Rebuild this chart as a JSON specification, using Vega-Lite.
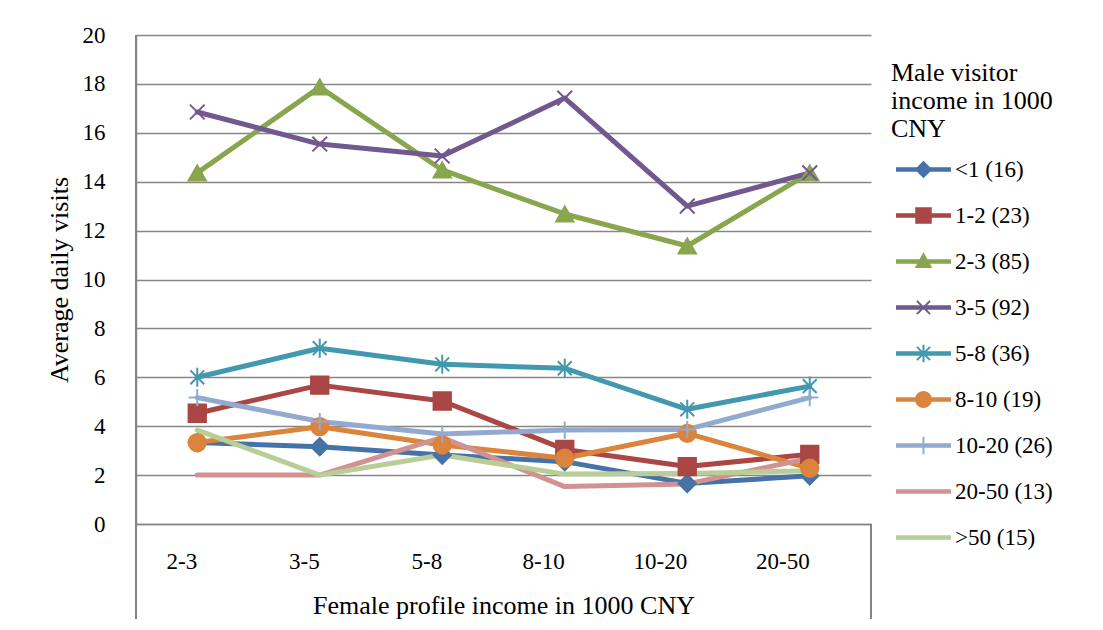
{
  "$schema": "https://vega.github.io/schema/vega-lite/v6.json",
  "autosize": {"type": "none"},
  "width": 735,
  "height": 489,
  "padding": {"left": 136, "top": 35, "right": 232, "bottom": 106},
  "background": "white",
  "config": {
    "view": {"stroke": null},
    "axis": {
      "labelFont": "Liberation Serif, DejaVu Serif",
      "labelFontSize": 23,
      "labelColor": "black",
      "titleFont": "Liberation Serif",
      "titleFontSize": 26,
      "titleFontWeight": "normal",
      "titleColor": "black",
      "domainColor": "#868686",
      "domainWidth": 1.5,
      "gridColor": "#868686",
      "gridWidth": 1.5,
      "ticks": false
    },
    "legend": {
      "labelFont": "Liberation Serif, DejaVu Serif",
      "labelFontSize": 23,
      "labelColor": "black",
      "titleFont": "Liberation Serif",
      "titleFontSize": 26,
      "titleFontWeight": "normal",
      "titleColor": "black",
      "titleLineHeight": 28
    }
  },
  "data": {
    "values": [
      {"series": "<1 (16)", "income": "2-3", "visits": 3.33},
      {"series": "<1 (16)", "income": "3-5", "visits": 3.16},
      {"series": "<1 (16)", "income": "5-8", "visits": 2.82},
      {"series": "<1 (16)", "income": "8-10", "visits": 2.55},
      {"series": "<1 (16)", "income": "10-20", "visits": 1.66},
      {"series": "<1 (16)", "income": "20-50", "visits": 1.97},
      {"series": "1-2 (23)", "income": "2-3", "visits": 4.53},
      {"series": "1-2 (23)", "income": "3-5", "visits": 5.68},
      {"series": "1-2 (23)", "income": "5-8", "visits": 5.03},
      {"series": "1-2 (23)", "income": "8-10", "visits": 3.05},
      {"series": "1-2 (23)", "income": "10-20", "visits": 2.35},
      {"series": "1-2 (23)", "income": "20-50", "visits": 2.85},
      {"series": "2-3 (85)", "income": "2-3", "visits": 14.36},
      {"series": "2-3 (85)", "income": "3-5", "visits": 17.87},
      {"series": "2-3 (85)", "income": "5-8", "visits": 14.48},
      {"series": "2-3 (85)", "income": "8-10", "visits": 12.68},
      {"series": "2-3 (85)", "income": "10-20", "visits": 11.37},
      {"series": "2-3 (85)", "income": "20-50", "visits": 14.36},
      {"series": "3-5 (92)", "income": "2-3", "visits": 16.85},
      {"series": "3-5 (92)", "income": "3-5", "visits": 15.54},
      {"series": "3-5 (92)", "income": "5-8", "visits": 15.05},
      {"series": "3-5 (92)", "income": "8-10", "visits": 17.42},
      {"series": "3-5 (92)", "income": "10-20", "visits": 13.0},
      {"series": "3-5 (92)", "income": "20-50", "visits": 14.36},
      {"series": "5-8 (36)", "income": "2-3", "visits": 6.0},
      {"series": "5-8 (36)", "income": "3-5", "visits": 7.19},
      {"series": "5-8 (36)", "income": "5-8", "visits": 6.53},
      {"series": "5-8 (36)", "income": "8-10", "visits": 6.37},
      {"series": "5-8 (36)", "income": "10-20", "visits": 4.69},
      {"series": "5-8 (36)", "income": "20-50", "visits": 5.64},
      {"series": "8-10 (19)", "income": "2-3", "visits": 3.33},
      {"series": "8-10 (19)", "income": "3-5", "visits": 3.98},
      {"series": "8-10 (19)", "income": "5-8", "visits": 3.23},
      {"series": "8-10 (19)", "income": "8-10", "visits": 2.69},
      {"series": "8-10 (19)", "income": "10-20", "visits": 3.71},
      {"series": "8-10 (19)", "income": "20-50", "visits": 2.28},
      {"series": "10-20 (26)", "income": "2-3", "visits": 5.17},
      {"series": "10-20 (26)", "income": "3-5", "visits": 4.19},
      {"series": "10-20 (26)", "income": "5-8", "visits": 3.68},
      {"series": "10-20 (26)", "income": "8-10", "visits": 3.84},
      {"series": "10-20 (26)", "income": "10-20", "visits": 3.87},
      {"series": "10-20 (26)", "income": "20-50", "visits": 5.17},
      {"series": "20-50 (13)", "income": "2-3", "visits": 2.0},
      {"series": "20-50 (13)", "income": "3-5", "visits": 2.0},
      {"series": "20-50 (13)", "income": "5-8", "visits": 3.54},
      {"series": "20-50 (13)", "income": "8-10", "visits": 1.53},
      {"series": "20-50 (13)", "income": "10-20", "visits": 1.64},
      {"series": "20-50 (13)", "income": "20-50", "visits": 2.69},
      {"series": ">50 (15)", "income": "2-3", "visits": 3.84},
      {"series": ">50 (15)", "income": "3-5", "visits": 2.0},
      {"series": ">50 (15)", "income": "5-8", "visits": 2.82},
      {"series": ">50 (15)", "income": "8-10", "visits": 2.04},
      {"series": ">50 (15)", "income": "10-20", "visits": 2.07},
      {"series": ">50 (15)", "income": "20-50", "visits": 2.18}
    ]
  },
  "resolve": {
    "scale": {"shape": "independent", "color": "independent"},
    "legend": {"shape": "independent", "color": "independent"}
  },
  "layer": [
    {
      "mark": {"type": "rule", "color": "#868686", "strokeWidth": 1.5},
      "encoding": {
        "x": {"datum": "2-3", "type": "nominal", "bandPosition": 0},
        "y": {"datum": 20, "type": "quantitative"},
        "y2": {"datum": -3.85}
      }
    },
    {
      "mark": {"type": "rule", "color": "#868686", "strokeWidth": 1.5},
      "encoding": {
        "x": {"datum": "20-50", "type": "nominal", "bandPosition": 1},
        "y": {"datum": 0, "type": "quantitative"},
        "y2": {"datum": -3.85}
      }
    },
    {
      "mark": {"type": "line", "strokeWidth": 5, "strokeCap": "round", "strokeJoin": "round"},
      "encoding": {
        "x": {
          "field": "income", "type": "nominal", "bandPosition": 0.5,
          "sort": ["2-3", "3-5", "5-8", "8-10", "10-20", "20-50"],
          "scale": {"type": "band", "domain": ["2-3", "3-5", "5-8", "8-10", "10-20", "20-50"], "paddingInner": 0, "paddingOuter": 0},
          "axis": {
            "title": "Female profile income in 1000 CNY", "labelAngle": 0, "labelPadding": 37, "titlePadding": 19, "grid": false,
            "labelFont": "Liberation Serif, DejaVu Serif", "labelFontSize": 23
          }
        },
        "y": {
          "field": "visits", "type": "quantitative",
          "scale": {"domain": [0, 20], "nice": false, "zero": true},
          "axis": {
            "title": "Average daily visits", "values": [0, 2, 4, 6, 8, 10, 12, 14, 16, 18, 20], "labelPadding": 31, "titlePadding": 10, "grid": true,
            "labelFont": "Liberation Serif, DejaVu Serif", "labelFontSize": 23
          }
        },
        "color": {
          "field": "series", "type": "nominal", "legend": null,
          "scale": {
            "domain": ["<1 (16)", "1-2 (23)", "2-3 (85)", "3-5 (92)", "5-8 (36)", "8-10 (19)", "10-20 (26)", "20-50 (13)", ">50 (15)"],
            "range": ["#4572A7", "#AA4643", "#89A54E", "#71588F", "#4198AF", "#DB843D", "#93A9CF", "#D19392", "#B9CD96"]
          }
        }
      }
    },
    {
      "transform": [{"filter": "datum.series !== '20-50 (13)' && datum.series !== '>50 (15)'"}],
      "mark": {"type": "point", "filled": true, "size": 300, "strokeWidth": 2, "opacity": 1},
      "encoding": {
        "x": {"field": "income", "type": "nominal", "bandPosition": 0.5},
        "y": {"field": "visits", "type": "quantitative"},
        "color": {
          "field": "series", "type": "nominal", "legend": null,
          "scale": {
            "domain": ["<1 (16)", "1-2 (23)", "2-3 (85)", "3-5 (92)", "5-8 (36)", "8-10 (19)", "10-20 (26)"],
            "range": ["#4572A7", "#AA4643", "#89A54E", "#71588F", "#4198AF", "#DB843D", "#93A9CF"]
          }
        },
        "stroke": {
          "field": "series", "type": "nominal", "legend": null,
          "scale": {
            "domain": ["<1 (16)", "1-2 (23)", "2-3 (85)", "3-5 (92)", "5-8 (36)", "8-10 (19)", "10-20 (26)"],
            "range": ["#4572A7", "#AA4643", "#89A54E", "#71588F", "#4198AF", "#DB843D", "#93A9CF"]
          }
        },
        "shape": {
          "field": "series", "type": "nominal", "legend": null,
          "scale": {
            "domain": ["<1 (16)", "1-2 (23)", "2-3 (85)", "3-5 (92)", "5-8 (36)", "8-10 (19)", "10-20 (26)"],
            "range": [
              "diamond",
              "square",
              "triangle-up",
              "M-0.85,-0.85L0.85,0.85M-0.85,0.85L0.85,-0.85",
              "M-0.8,-0.8L0.8,0.8M-0.8,0.8L0.8,-0.8M0,-1.1L0,1.1",
              "circle",
              "M-1,0L1,0M0,-1L0,1"
            ]
          }
        }
      }
    },
    {
      "mark": {"type": "point", "filled": true, "opacity": 0, "size": 10},
      "encoding": {
        "x": {"field": "income", "type": "nominal", "bandPosition": 0.5},
        "y": {"field": "visits", "type": "quantitative"},
        "color": {
          "field": "series", "type": "nominal",
          "scale": {
            "domain": ["<1 (16)", "1-2 (23)", "2-3 (85)", "3-5 (92)", "5-8 (36)", "8-10 (19)", "10-20 (26)", "20-50 (13)", ">50 (15)"],
            "range": ["#4572A7", "#AA4643", "#89A54E", "#71588F", "#4198AF", "#DB843D", "#93A9CF", "#D19392", "#B9CD96"]
          },
          "legend": {
            "orient": "none",
            "legendX": 755,
            "legendY": 25,
            "padding": 0,
            "title": ["Male visitor", "income in 1000", "CNY"],
            "titlePadding": 0,
            "symbolSize": 3025,
            "symbolStrokeWidth": 0,
            "symbolOpacity": 1,
            "symbolOffset": 5,
            "labelOffset": 4,
            "rowPadding": 6,
            "labelFont": "Liberation Serif, DejaVu Serif",
            "labelFontSize": 23,
            "titleLineHeight": 28
          }
        },
        "shape": {
          "field": "series", "type": "nominal",
          "scale": {
            "domain": ["<1 (16)", "1-2 (23)", "2-3 (85)", "3-5 (92)", "5-8 (36)", "8-10 (19)", "10-20 (26)", "20-50 (13)", ">50 (15)"],
            "range": [
              "M-1,-0.082H1V0.082H-1ZM0,-0.32L0.32,0L0,0.32L-0.32,0Z",
              "M-1,-0.082H1V0.082H-1ZM-0.3,-0.3H0.3V0.3H-0.3Z",
              "M-1,-0.082H1V0.082H-1ZM0,-0.34L0.32,0.24H-0.32Z",
              "M-1,-0.082H1V0.082H-1ZM-0.214,-0.266L0.266,0.214L0.214,0.266L-0.266,-0.214ZM-0.266,0.214L0.214,-0.266L0.266,-0.214L-0.214,0.266Z",
              "M-1,-0.082H1V0.082H-1ZM-0.214,-0.266L0.266,0.214L0.214,0.266L-0.266,-0.214ZM-0.266,0.214L0.214,-0.266L0.266,-0.214L-0.214,0.266ZM-0.036,-0.32H0.036V0.32H-0.036Z",
              "M-1,-0.082H1V0.082H-1ZM0.31,0A0.31,0.31 0 1,1 -0.31,0A0.31,0.31 0 1,1 0.31,0Z",
              "M-1,-0.082H1V0.082H-1ZM-0.036,-0.32H0.036V0.32H-0.036Z",
              "M-1,-0.082H1V0.082H-1Z",
              "M-1,-0.082H1V0.082H-1Z"
            ]
          },
          "legend": {
            "orient": "none",
            "legendX": 755,
            "legendY": 25,
            "padding": 0,
            "title": ["Male visitor", "income in 1000", "CNY"],
            "titlePadding": 0,
            "symbolSize": 3025,
            "symbolStrokeWidth": 0,
            "symbolOpacity": 1,
            "symbolOffset": 5,
            "labelOffset": 4,
            "rowPadding": 6,
            "labelFont": "Liberation Serif, DejaVu Serif",
            "labelFontSize": 23,
            "titleLineHeight": 28
          }
        }
      }
    }
  ]
}
